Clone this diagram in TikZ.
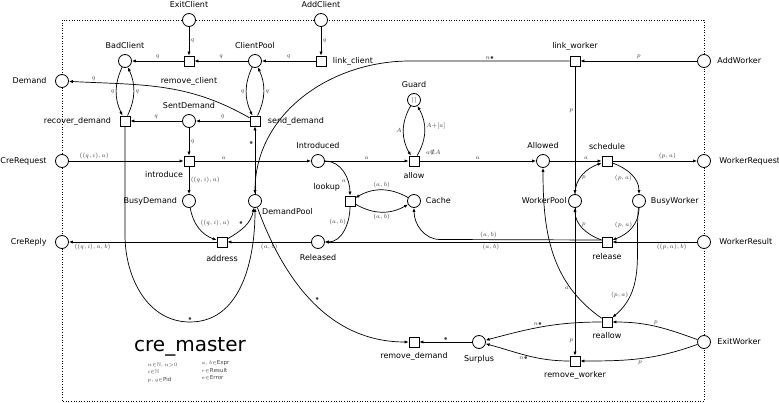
\documentclass[tikz,border=0pt]{standalone}
\usepackage{amsmath,amssymb}
\usepackage{fontspec}
\setmainfont{DejaVu Sans}
\usetikzlibrary{arrows.meta}
\colorlet{inscC}{black!75}

\tikzset{
  place/.style={circle, draw, line width=0.8pt, minimum size=13pt, inner sep=0pt, fill=white},
  trans/.style={draw, line width=0.8pt, minimum size=10pt, inner sep=0pt, fill=white},
  arc/.style={-{Latex[length=4pt,width=3.2pt]}, line width=0.7pt},
  insc/.style={font=\fontsize{5.8}{6.5}\selectfont, text=inscC, inner sep=1.5pt},
  every label/.style={font=\fontsize{8}{9}\selectfont},
  far/.style={label distance=5pt}
}

\begin{document}
\begin{tikzpicture}[x=1pt, y=1pt, label distance=1.5pt]
  \useasboundingbox (0,0) rectangle (779,-403);
  % Boundary
  \draw[dotted, line width=0.6pt] (62,-20) rectangle (704,-401);

  % Places
  \node[place, label=above:ExitClient] (ExitClient) at (189,-20) {};
  \node[place, label=above:AddClient] (AddClient) at (321,-20) {};
  \node[place, label=above:BadClient] (BadClient) at (125,-61) {};
  \node[place, label=above:ClientPool] (ClientPool) at (255,-61) {};
  \node[place, label={[far]left:Demand}] (Demand) at (62,-81) {};
  \node[place, label=above:SentDemand] (SentDemand) at (189,-121) {};
  \node[place, font=\fontsize{5.5}{6.5}\selectfont, label=above:Guard] (Guard) at (414,-100) {$[\,]$};
  \node[place, label={[label distance=3pt]right:AddWorker}] (AddWorker) at (704,-61) {};
  \node[place, label={[far]left:CreRequest}] (CreRequest) at (62,-161) {};
  \node[place, label=above:Introduced] (Introduced) at (318,-161) {};
  \node[place, label=above:Allowed] (Allowed) at (543,-161) {};
  \node[place, label={[far]right:WorkerRequest}] (WorkerRequest) at (704,-161) {};
  \node[place, label=left:BusyDemand] (BusyDemand) at (189,-201) {};
  \node[place, label={[anchor=north west, inner sep=1pt]south east:DemandPool}] (DemandPool) at (255,-201) {};
  \node[place, label=right:Cache] (Cache) at (414,-201) {};
  \node[place, label={[label distance=-2pt]left:WorkerPool}] (WorkerPool) at (575,-201) {};
  \node[place, label=right:BusyWorker] (BusyWorker) at (639,-201) {};
  \node[place, label={[far]left:CreReply}] (CreReply) at (62,-242) {};
  \node[place, label={[label distance=2pt]below:Released}] (Released) at (318,-242) {};
  \node[place, label={[far]right:WorkerResult}] (WorkerResult) at (704,-242) {};
  \node[place, label={[label distance=3pt]below:Surplus}] (Surplus) at (479,-342) {};
  \node[place, label={[label distance=3pt]right:ExitWorker}] (ExitWorker) at (704,-342) {};

  % Transitions
  \node[trans, label={[label distance=7pt]below:remove\_client}] (remove_client) at (189,-61) {};
  \node[trans, label={[label distance=3pt]right:link\_client}] (link_client) at (321,-61) {};
  \node[trans, label={[label distance=5pt]left:recover\_demand}] (recover_demand) at (125,-121) {};
  \node[trans, label={[label distance=4pt]right:send\_demand}] (send_demand) at (255,-121) {};
  \node[trans, label=above:link\_worker] (link_worker) at (575,-61) {};
  \node[trans, label={[anchor=north east, xshift=4pt]south west:introduce}] (introduce) at (189,-161) {};
  \node[trans, label={[label distance=2pt]below:allow},
        label={[insc, anchor=south west, label distance=0pt, xshift=5pt, yshift=-1pt]north east:$a$∉$A$}] (allow) at (414,-161) {};
  \node[trans, label={[anchor=south east]north west:lookup}] (lookup) at (350,-201) {};
  \node[trans, label={[label distance=2pt]above:schedule}] (schedule) at (607,-161) {};
  \node[trans, label={[label distance=4pt]below:address}] (address) at (222,-242) {};
  \node[trans, label={[label distance=2pt]below:release}] (release) at (607,-242) {};
  \node[trans, label=below:reallow] (reallow) at (607,-322) {};
  \node[trans, label=below:remove\_worker] (remove_worker) at (575,-361) {};
  \node[trans, label=below:remove\_demand] (remove_demand) at (414,-342) {};

  % Bend points
  \coordinate (lw_bend) at (410,-61);
  \coordinate (rc_bend) at (440,-239.5);
  \coordinate (rd_down) at (125,-235);
  \coordinate (rd_bottom) at (190,-322);

  % Clients
  \draw[arc] (ExitClient) -- node[insc, right] {$q$} (remove_client);
  \draw[arc] (ClientPool) -- node[insc, above] {$q$} (remove_client);
  \draw[arc] (remove_client) -- node[insc, above] {$q$} (BadClient);
  \draw[arc] (AddClient) -- node[insc, right] {$q$} (link_client);
  \draw[arc] (link_client) -- node[insc, above] {$q$} (ClientPool);
  \draw[arc] (ClientPool) to[bend right=25] node[insc, left] {$q$} (send_demand);
  \draw[arc] (send_demand) to[bend right=25] node[insc, right] {$q$} (ClientPool);
  \draw[arc] (BadClient) to[bend right=25] node[insc, left] {$q$} (recover_demand);
  \draw[arc] (recover_demand) to[bend right=25] node[insc, right] {$q$} (BadClient);
  \draw[arc] (send_demand) to[out=150, in=-3] node[insc, above, pos=.88] {$q$} (Demand);
  \draw[arc] (send_demand) -- node[insc, above] {$q$} (SentDemand);
  \draw[arc] (SentDemand) -- node[insc, above] {$q$} (recover_demand);
  \draw[arc] (SentDemand) -- node[insc, right] {$q$} (introduce);
  \draw[arc] (DemandPool) -- node[insc, left, pos=.75] {$\bullet$} (send_demand);
  \draw[arc] (link_worker) -- node[insc, above] {$n\bullet$} (lw_bend) to[out=180, in=90] (DemandPool);

  % Demands
  \draw[arc] (CreRequest) -- node[insc, above, pos=.22] {$((q,i),a)$} (introduce);
  \draw[arc] (introduce) -- node[insc, above, pos=.25] {$a$} (Introduced);
  \draw[arc] (introduce) -- node[insc, right] {$((q,i),a)$} (BusyDemand);
  \draw[arc] (BusyDemand) to[out=-80, in=160] node[insc, above right] {$((q,i),a)$} (address);
  \draw[arc] (address) to[out=30, in=-100] node[insc, above left] {$\bullet$} (DemandPool);
  \draw[arc] (Released) -- node[insc, below] {$(a,b)$} (address);
  \draw[arc] (address) -- node[insc, below, pos=.84] {$((q,i),a,b)$} (CreReply);
  \draw[arc] (recover_demand) -- (rd_down) to[out=-90, in=180] (rd_bottom)
    node[insc, above] {$\bullet$} to[out=0, in=-90] (DemandPool);
  \draw[arc] (DemandPool) to[out=-70, in=180] node[insc, above right] {$\bullet$} (remove_demand);
  \draw[arc] (Surplus) -- node[insc, above] {$\bullet$} (remove_demand);

  % Lookup and cache
  \draw[arc] (Introduced) to[out=0, in=90] node[insc, left, pos=.7] {$a$} (lookup);
  \draw[arc] (lookup) to[out=-90, in=0] node[insc, left, pos=.3] {$(a,b)$} (Released);
  \draw[arc] (Cache) to[bend right=30] node[insc, above] {$(a,b)$} (lookup);
  \draw[arc] (lookup) to[bend right=30] node[insc, below] {$(a,b)$} (Cache);
  \draw[arc] ([yshift=2pt]release.west) -- node[insc, above, pos=.7] {$(a,b)$} (rc_bend) to[out=180, in=-90] (Cache);
  \draw[arc] (release) -- node[insc, below, pos=.4] {$(a,b)$} (Released);

  % Guard
  \draw[arc] (Guard) to[bend right=30] node[insc, left] {$A$} (allow);
  \draw[arc] (allow) to[bend right=30] node[insc, right, pos=.6] {$A{+}[a]$} (Guard);
  \draw[arc] (Introduced) -- node[insc, above] {$a$} (allow);
  \draw[arc] (allow) -- node[insc, above] {$a$} (Allowed);
  \draw[arc] (Allowed) -- node[insc, above, pos=.7] {$a$} (schedule);
  \draw[arc] (schedule) -- node[insc, above, pos=.65] {$(p,a)$} (WorkerRequest);

  % Workers
  \draw[arc] (AddWorker) -- node[insc, above] {$p$} (link_worker);
  \draw[arc] (link_worker) -- node[insc, left, pos=.35] {$p$} (WorkerPool);
  \draw[arc] (WorkerPool) -- node[insc, left, pos=.9] {$p$} (remove_worker);
  \draw[arc] (WorkerPool) to[out=90, in=200] node[insc, right, pos=.4] {$p$} (schedule);
  \draw[arc] (schedule) to[out=-20, in=90] node[insc, left, pos=.6] {$(p,a)$} (BusyWorker);
  \draw[arc] (BusyWorker) to[out=-90, in=20] node[insc, left, pos=.4] {$(p,a)$} (release);
  \draw[arc] (release) to[out=160, in=-90] node[insc, right, pos=.6] {$p$} (WorkerPool);
  \draw[arc] (WorkerResult) -- node[insc, below, pos=.3] {$((p,a),b)$} (release);
  \draw[arc] (BusyWorker) to[out=-95, in=40] node[insc, left, pos=.75] {$(p,a)$} (reallow);
  \draw[arc] (reallow) to[out=145, in=-90] node[insc, left, pos=.25] {$a$} (Allowed);
  \draw[arc] (ExitWorker) to[out=160, in=0] node[insc, above] {$p$} (reallow);
  \draw[arc] (ExitWorker) to[out=-160, in=0] node[insc, below] {$p$} (remove_worker);
  \draw[arc] (reallow) to[out=180, in=15] node[insc, above, pos=.55] {$n\bullet$} (Surplus);
  \draw[arc] (remove_worker) to[out=180, in=-15] node[insc, below, pos=.55] {$n\bullet$} (Surplus);

  % Title and declarations
  \node[font=\fontsize{20}{24}\selectfont] (title) at (190,-347) {cre\_master};
  \node[insc, font=\fontsize{5.5}{7.5}\selectfont, anchor=north west, align=left] (decl_left) at (146,-361)
    {$n{\in}\mathbb{N},n{>}0$\\$i{\in}\mathbb{N}$\\$p,q{\in}\mathrm{Pid}$};
  \node[insc, font=\fontsize{5.5}{7.5}\selectfont, anchor=north west, align=left] (decl_right) at (200,-359)
    {$a,b{\in}\mathrm{Expr}$\\$r{\in}\mathrm{Result}$\\$e{\in}\mathrm{Error}$};
\end{tikzpicture}
\end{document}
